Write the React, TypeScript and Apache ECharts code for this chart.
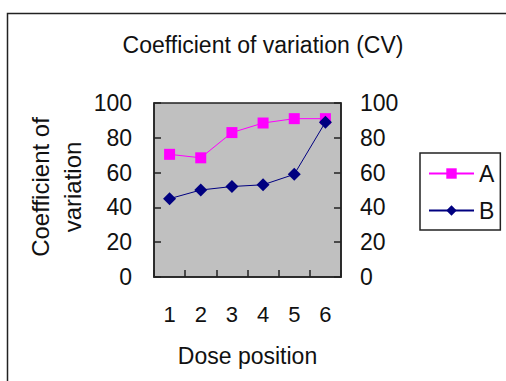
import React, { useEffect, useRef } from "react";
import * as echarts from "echarts";

const doses = ["1", "2", "3", "4", "5", "6"];
const seriesA = [70.5, 68.5, 83, 88.5, 91, 91];
const seriesB = [45, 50, 52, 53, 59, 89];
const yTicks = { min: 0, max: 100, interval: 20 };

const FONT = "Liberation Sans";
const TEXT = "#111";

export default function App() {
  const ref = useRef<HTMLDivElement>(null);

  useEffect(() => {
    if (!ref.current) return;
    const chart = echarts.init(ref.current, null, { renderer: "svg" });

    const valueAxis = (position: "left" | "right", margin: number) => ({
      type: "value",
      position,
      min: yTicks.min,
      max: yTicks.max,
      interval: yTicks.interval,
      axisLine: { show: true, lineStyle: { color: "#222", width: 1.5 } },
      axisTick: { show: true, inside: true, length: 7, lineStyle: { color: "#222", width: 1.5 } },
      splitLine: { show: false },
      axisLabel: { color: TEXT, fontFamily: FONT, fontSize: 23, margin },
    });

    chart.setOption({
      animation: false,
      backgroundColor: "#fff",
      title: {
        text: "Coefficient of variation (CV)",
        left: 258,
        top: 28,
        textAlign: "center",
        textStyle: { color: TEXT, fontFamily: FONT, fontSize: 23, fontWeight: "normal" },
      },
      grid: {
        left: 154,
        top: 103,
        width: 187,
        height: 174,
        show: true,
        backgroundColor: "#c0c0c0",
        borderColor: "#222",
        borderWidth: 1.5,
      },
      xAxis: {
        type: "category",
        data: doses,
        boundaryGap: true,
        axisLine: { show: true, lineStyle: { color: "#222", width: 1.5 } },
        axisTick: { show: true, inside: true, length: 7, lineStyle: { color: "#222", width: 1.5 } },
        axisLabel: { color: TEXT, fontFamily: FONT, fontSize: 22, margin: 26 },
        name: "Dose position",
        nameLocation: "middle",
        nameGap: 67,
        nameTextStyle: { color: TEXT, fontFamily: FONT, fontSize: 23 },
      },
      yAxis: [valueAxis("left", 22), valueAxis("right", 19)],
      legend: {
        orient: "vertical",
        left: 420,
        top: 153,
        width: 83,
        padding: [9, 6, 8, 8],
        itemGap: 14,
        itemWidth: 45,
        itemHeight: 13,
        borderColor: "#222",
        borderWidth: 1.5,
        backgroundColor: "#fff",
        textStyle: { color: TEXT, fontFamily: FONT, fontSize: 23, padding: [0, 0, 0, 0] },
        data: ["A", "B"],
      },
      series: [
        {
          name: "A",
          type: "line",
          yAxisIndex: 0,
          data: seriesA,
          symbol: "rect",
          symbolSize: 11,
          itemStyle: { color: "#ff00ff" },
          lineStyle: { color: "#ff00ff", width: 1 },
        },
        {
          name: "B",
          type: "line",
          yAxisIndex: 0,
          data: seriesB,
          symbol: "diamond",
          symbolSize: 13,
          itemStyle: { color: "#000080" },
          lineStyle: { color: "#000080", width: 1 },
        },
      ],
      graphic: [
        {
          type: "rect",
          shape: { x: 7.5, y: 13.5, width: 600, height: 400 },
          style: { fill: "none", stroke: "#222", lineWidth: 1.5 },
          silent: true,
          z: -1,
        },
        {
          type: "text",
          x: 56,
          y: 187,
          rotation: Math.PI / 2,
          style: {
            text: "Coefficient of\nvariation",
            fill: TEXT,
            font: `24px "${FONT}"`,
            align: "center",
            verticalAlign: "middle",
            lineHeight: 32,
          },
        },
      ],
    });

    return () => chart.dispose();
  }, []);

  return (
    <div
      ref={ref}
      style={{ position: "fixed", left: 0, top: 0, width: 506, height: 381 }}
    />
  );
}
